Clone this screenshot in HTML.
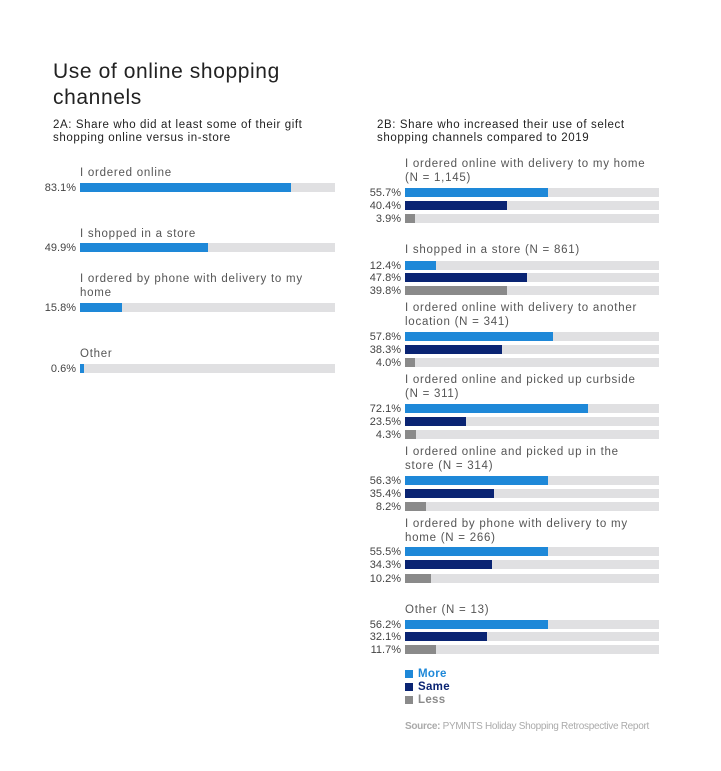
<!DOCTYPE html>
<html><head><meta charset="utf-8"><style>
body{margin:0;width:721px;height:771px;background:#fff;font-family:"Liberation Sans",sans-serif;position:relative;overflow:hidden}
.t{position:absolute;white-space:nowrap;line-height:14px;font-size:11.5px;color:#555;letter-spacing:0.75px}
.v{position:absolute;line-height:10px;font-size:11px;color:#444;text-align:right;width:60px}
.tr{position:absolute;height:9px;background:#e0e0e2}
.b{position:absolute;left:0;top:0;height:9px}
.m{background:#1e88d8}.s{background:#0a2473}.l{background:#8a8a8a}
h1{position:absolute;left:53px;top:59px;margin:0;font-size:21px;font-weight:normal;line-height:26px;color:#222;letter-spacing:0.6px}
.h{position:absolute;font-size:11.5px;line-height:13px;color:#222;letter-spacing:0.6px;white-space:nowrap}
</style></head><body>
<h1>Use of online shopping<br>channels</h1>
<div class="h" style="left:53px;top:119px">2A: Share who did at least some of their gift<br>shopping online versus in-store</div>
<div class="h" style="left:377px;top:119px">2B: Share who increased their use of select<br>shopping channels compared to 2019</div>

<div class="t" style="left:80px;top:166px">I ordered online</div>
<div class="v" style="left:16px;top:183px">83.1%</div>
<div class="tr" style="left:80px;top:183px;width:255px"><div class="b m" style="width:211px"></div></div>

<div class="t" style="left:80px;top:227px">I shopped in a store</div>
<div class="v" style="left:16px;top:243px">49.9%</div>
<div class="tr" style="left:80px;top:243px;width:255px"><div class="b m" style="width:128px"></div></div>

<div class="t" style="left:80px;top:272px">I ordered by phone with delivery to my<br>home</div>
<div class="v" style="left:16px;top:303px">15.8%</div>
<div class="tr" style="left:80px;top:303px;width:255px"><div class="b m" style="width:42px"></div></div>

<div class="t" style="left:80px;top:347px">Other</div>
<div class="v" style="left:16px;top:364px">0.6%</div>
<div class="tr" style="left:80px;top:364px;width:255px"><div class="b m" style="width:4px"></div></div>

<!-- right -->
<div class="t" style="left:405px;top:157px">I ordered online with delivery to my home<br>(N = 1,145)</div>
<div class="v" style="left:341px;top:188px">55.7%</div><div class="tr" style="left:405px;top:188px;width:254px"><div class="b m" style="width:143px"></div></div>
<div class="v" style="left:341px;top:201px">40.4%</div><div class="tr" style="left:405px;top:201px;width:254px"><div class="b s" style="width:102px"></div></div>
<div class="v" style="left:341px;top:214px">3.9%</div><div class="tr" style="left:405px;top:214px;width:254px"><div class="b l" style="width:10px"></div></div>

<div class="t" style="left:405px;top:243px">I shopped in a store (N = 861)</div>
<div class="v" style="left:341px;top:261px">12.4%</div><div class="tr" style="left:405px;top:261px;width:254px"><div class="b m" style="width:31px"></div></div>
<div class="v" style="left:341px;top:273px">47.8%</div><div class="tr" style="left:405px;top:273px;width:254px"><div class="b s" style="width:122px"></div></div>
<div class="v" style="left:341px;top:286px">39.8%</div><div class="tr" style="left:405px;top:286px;width:254px"><div class="b l" style="width:102px"></div></div>

<div class="t" style="left:405px;top:301px">I ordered online with delivery to another<br>location (N = 341)</div>
<div class="v" style="left:341px;top:332px">57.8%</div><div class="tr" style="left:405px;top:332px;width:254px"><div class="b m" style="width:148px"></div></div>
<div class="v" style="left:341px;top:345px">38.3%</div><div class="tr" style="left:405px;top:345px;width:254px"><div class="b s" style="width:97px"></div></div>
<div class="v" style="left:341px;top:358px">4.0%</div><div class="tr" style="left:405px;top:358px;width:254px"><div class="b l" style="width:10px"></div></div>

<div class="t" style="left:405px;top:373px">I ordered online and picked up curbside<br>(N = 311)</div>
<div class="v" style="left:341px;top:404px">72.1%</div><div class="tr" style="left:405px;top:404px;width:254px"><div class="b m" style="width:183px"></div></div>
<div class="v" style="left:341px;top:417px">23.5%</div><div class="tr" style="left:405px;top:417px;width:254px"><div class="b s" style="width:61px"></div></div>
<div class="v" style="left:341px;top:430px">4.3%</div><div class="tr" style="left:405px;top:430px;width:254px"><div class="b l" style="width:11px"></div></div>

<div class="t" style="left:405px;top:445px">I ordered online and picked up in the<br>store (N = 314)</div>
<div class="v" style="left:341px;top:476px">56.3%</div><div class="tr" style="left:405px;top:476px;width:254px"><div class="b m" style="width:143px"></div></div>
<div class="v" style="left:341px;top:489px">35.4%</div><div class="tr" style="left:405px;top:489px;width:254px"><div class="b s" style="width:89px"></div></div>
<div class="v" style="left:341px;top:502px">8.2%</div><div class="tr" style="left:405px;top:502px;width:254px"><div class="b l" style="width:21px"></div></div>

<div class="t" style="left:405px;top:517px">I ordered by phone with delivery to my<br>home (N = 266)</div>
<div class="v" style="left:341px;top:547px">55.5%</div><div class="tr" style="left:405px;top:547px;width:254px"><div class="b m" style="width:143px"></div></div>
<div class="v" style="left:341px;top:560px">34.3%</div><div class="tr" style="left:405px;top:560px;width:254px"><div class="b s" style="width:87px"></div></div>
<div class="v" style="left:341px;top:574px">10.2%</div><div class="tr" style="left:405px;top:574px;width:254px"><div class="b l" style="width:26px"></div></div>

<div class="t" style="left:405px;top:603px">Other (N = 13)</div>
<div class="v" style="left:341px;top:620px">56.2%</div><div class="tr" style="left:405px;top:620px;width:254px"><div class="b m" style="width:143px"></div></div>
<div class="v" style="left:341px;top:632px">32.1%</div><div class="tr" style="left:405px;top:632px;width:254px"><div class="b s" style="width:82px"></div></div>
<div class="v" style="left:341px;top:645px">11.7%</div><div class="tr" style="left:405px;top:645px;width:254px"><div class="b l" style="width:31px"></div></div>

<div style="position:absolute;left:405px;top:670px;width:8px;height:8px" class="m"></div>
<div class="t" style="left:418px;top:667px;font-weight:bold;color:#1e88d8;letter-spacing:0.3px">More</div>
<div style="position:absolute;left:405px;top:683px;width:8px;height:8px" class="s"></div>
<div class="t" style="left:418px;top:680px;font-weight:bold;color:#0a2473;letter-spacing:0.3px">Same</div>
<div style="position:absolute;left:405px;top:696px;width:8px;height:8px" class="l"></div>
<div class="t" style="left:418px;top:693px;font-weight:bold;color:#8a8a8a;letter-spacing:0.3px">Less</div>

<div class="t" style="left:405px;top:720px;font-size:10px;color:#aaa;letter-spacing:-0.3px"><b>Source:</b> PYMNTS Holiday Shopping Retrospective Report</div>
</body></html>
